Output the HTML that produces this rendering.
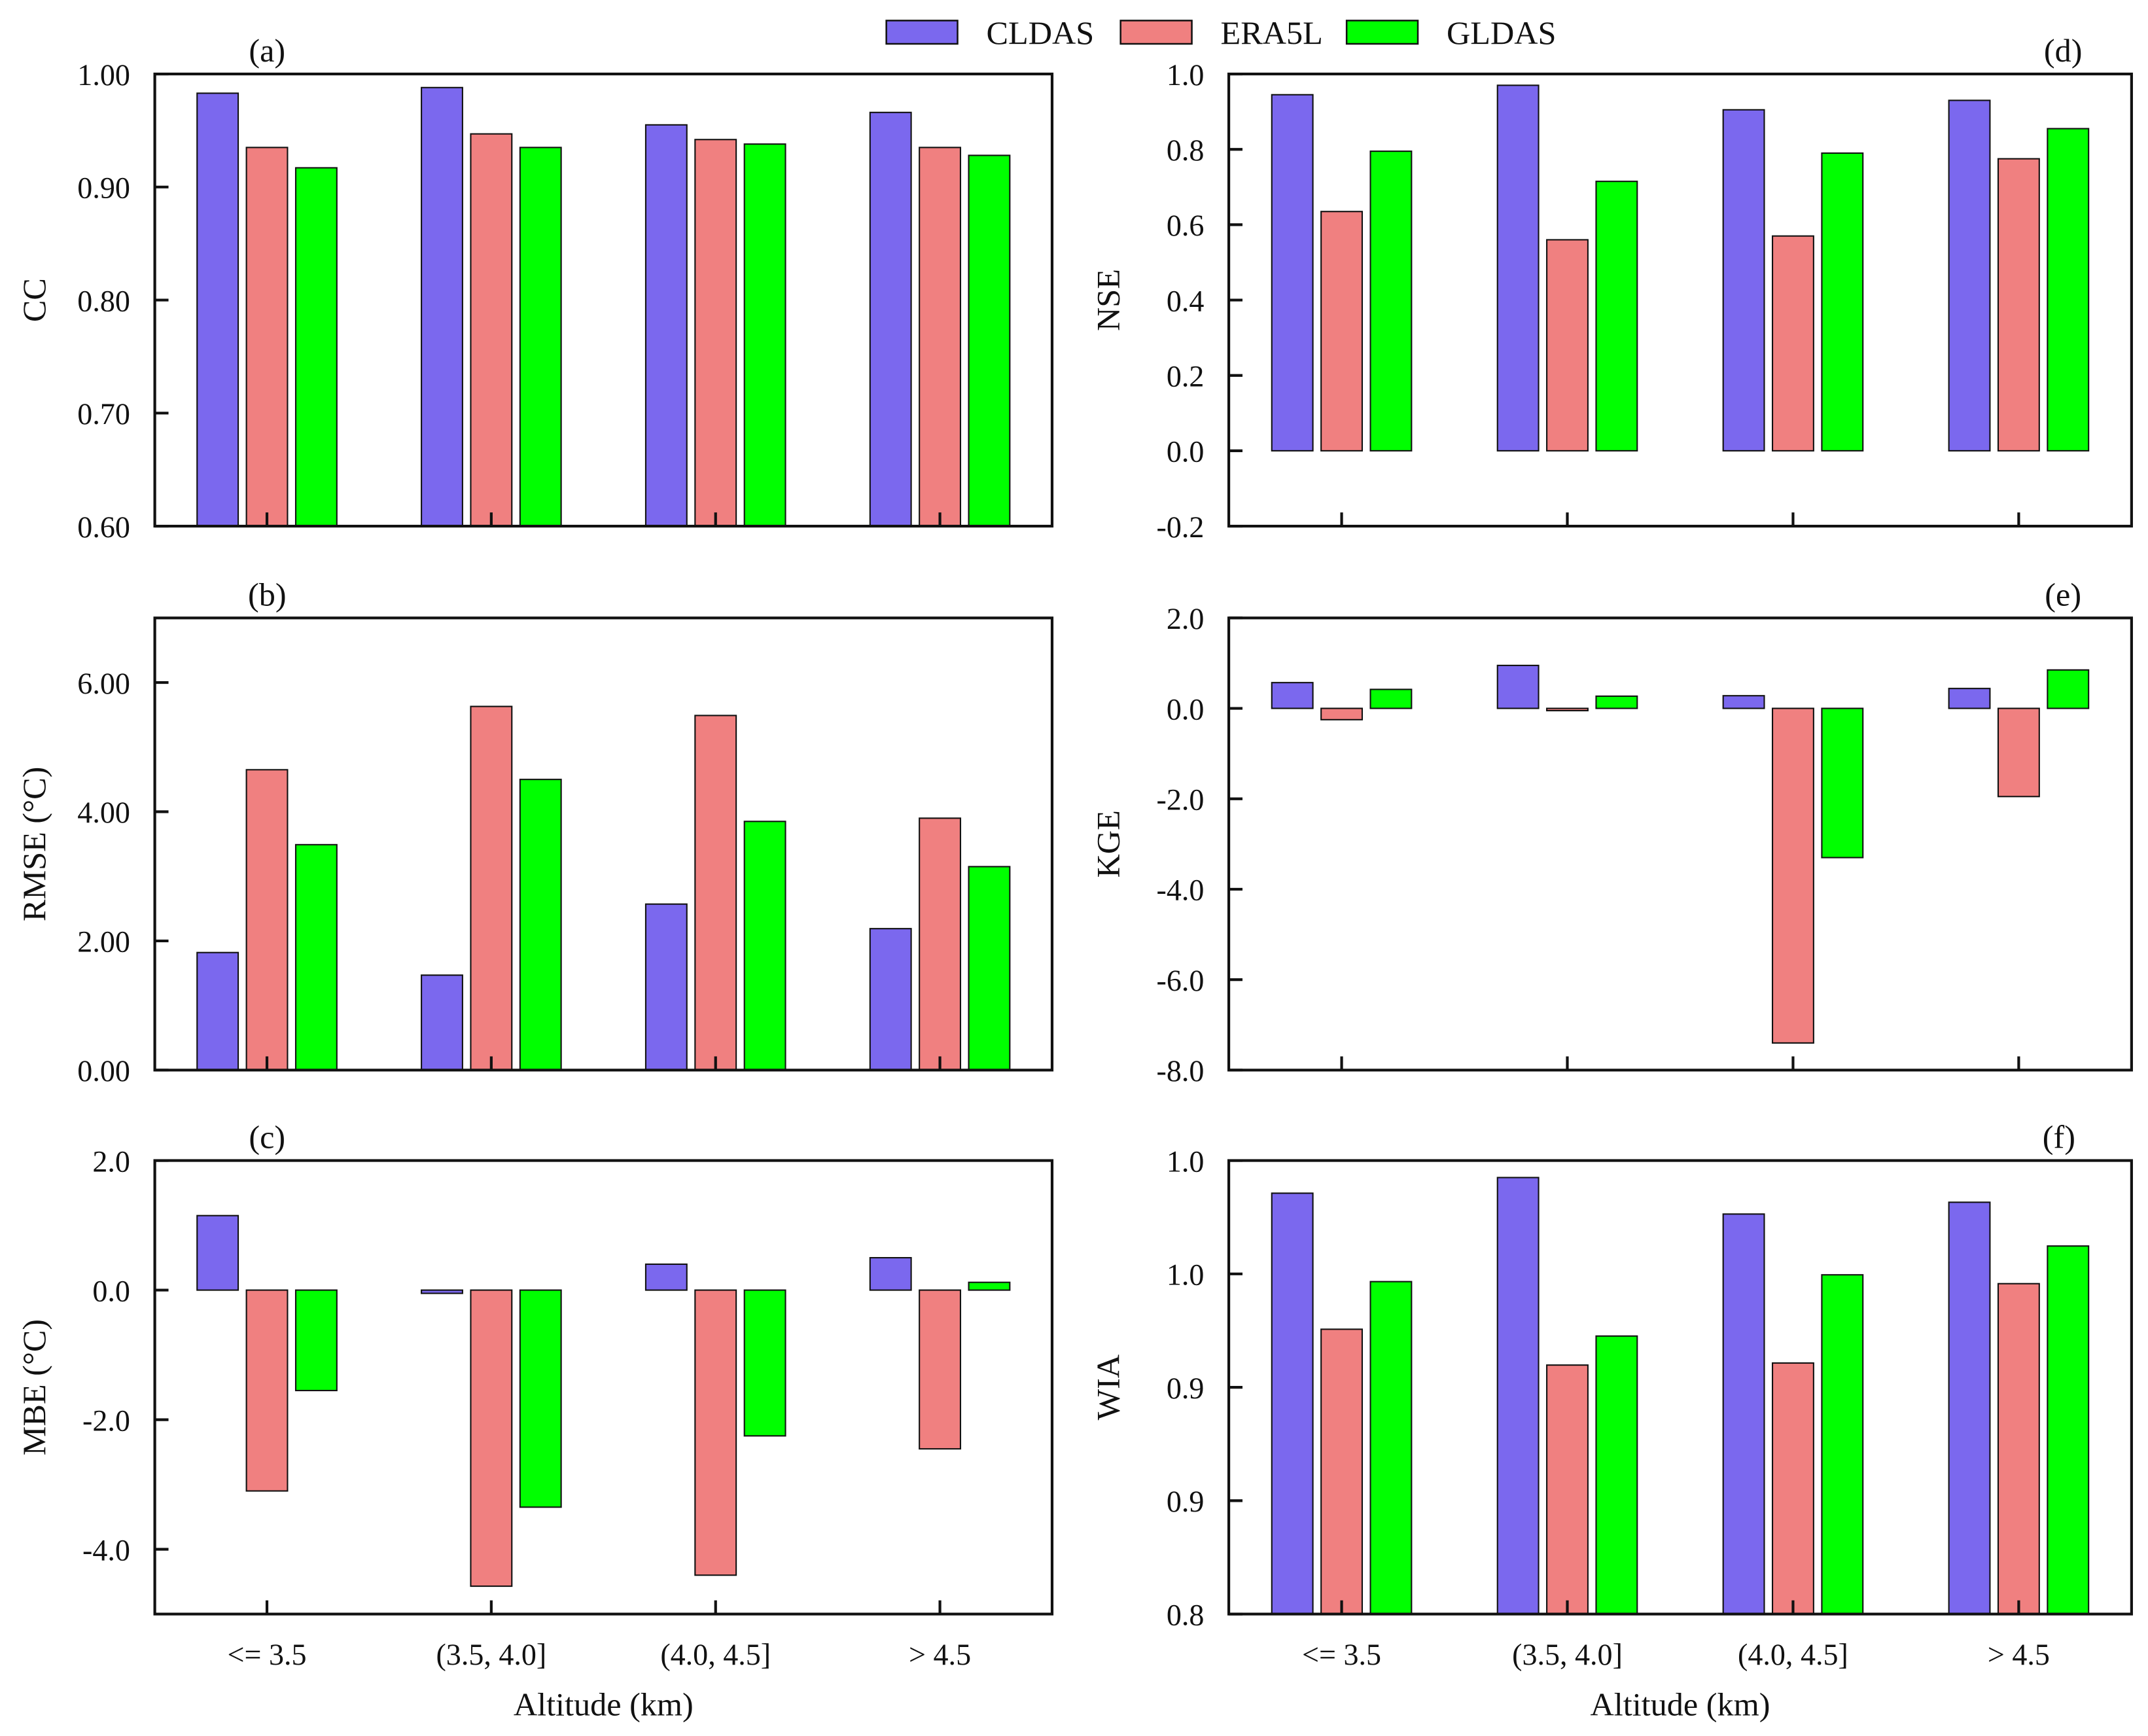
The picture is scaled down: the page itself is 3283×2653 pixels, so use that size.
<!DOCTYPE html>
<html><head><meta charset="utf-8"><style>
html,body{margin:0;padding:0;background:#fff}
svg{display:block}
text{font-family:"Liberation Serif",serif;fill:#111}
</style></head><body>
<svg id="fig" width="3283" height="2653" viewBox="0 0 1568 1267" preserveAspectRatio="none" xmlns="http://www.w3.org/2000/svg"></svg>
<script>
const categories = ["<= 3.5","(3.5, 4.0]","(4.0, 4.5]","> 4.5"];
const seriesNames = ["CLDAS","ERA5L","GLDAS"];
const colors = ["#7b68ee","#f08080","#00ff00"];
const ccCLDAS=[0.983,0.988,0.955,0.966], ccERA5L=[0.935,0.947,0.942,0.935], ccGLDAS=[0.917,0.935,0.938,0.928];
const rmseCLDAS=[1.82,1.47,2.57,2.19], rmseERA5L=[4.65,5.63,5.49,3.90], rmseGLDAS=[3.49,4.50,3.85,3.15];
const mbeCLDAS=[1.15,-0.05,0.40,0.50], mbeERA5L=[-3.10,-4.57,-4.40,-2.45], mbeGLDAS=[-1.55,-3.35,-2.25,0.12];
const nseCLDAS=[0.945,0.97,0.905,0.93], nseERA5L=[0.635,0.56,0.57,0.775], nseGLDAS=[0.795,0.715,0.79,0.855];
const kgeCLDAS=[0.57,0.95,0.28,0.44], kgeERA5L=[-0.25,-0.05,-7.4,-1.95], kgeGLDAS=[0.42,0.27,-3.3,0.85];
const wiaCLDAS=[0.9856,0.9925,0.9764,0.9816], wiaERA5L=[0.9256,0.9098,0.9107,0.9457], wiaGLDAS=[0.9466,0.9226,0.9496,0.9623];
const ccTicks=["0.60","0.70","0.80","0.90","1.00"];
const rmseTicks=["0.00","2.00","4.00","6.00"];
const mbeTicks=["-4.0","-2.0","0.0","2.0"];
const nseTicks=["-0.2","0.0","0.2","0.4","0.6","0.8","1.0"];
const kgeTicks=["-8.0","-6.0","-4.0","-2.0","0.0","2.0"];
const wiaTicks=["0.8","0.9","0.9","1.0","1.0"];

const NS="http://www.w3.org/2000/svg";
const svg=document.getElementById('fig');
function mk(tag,attrs,parent){const e=document.createElementNS(NS,tag);for(const k in attrs)e.setAttribute(k,attrs[k]);(parent||svg).appendChild(e);return e;}

function panel(id,label,x0,x1,y0,y1,min,max,tickVals,tickLabels,ytitle,labelX,data,showX){
  const g=mk('g',{});
  
  
  const ys=v=>y1-(v-min)/(max-min)*(y1-y0);
  const band=(x1-x0)/4;
  const xc=i=>x0+(i+0.5)*band;
  const base=ys(Math.max(min,0));
  data.forEach((vals,s)=>{
    vals.forEach((v,i)=>{
      const cx=xc(i)+(s-1)*36;
      const yv=ys(v);
      const r=mk('rect',{x:cx-15,y:Math.min(yv,base),width:30,height:Math.max(Math.abs(base-yv),0.8),fill:colors[s],stroke:'#111','stroke-width':1},g);
      
      
    });
  });
  const fr=mk('rect',{x:x0,y:y0,width:x1-x0,height:y1-y0,fill:'none',stroke:'#111','stroke-width':2},g);
  
  
  tickVals.forEach((v,k)=>{
    const y=ys(v);
    mk('line',{x1:x0,x2:x0+10,y1:y,y2:y,stroke:'#111','stroke-width':2},g);
    const t=mk('text',{x:x0-18,y:y+8,'text-anchor':'end','font-size':22},g);
    t.textContent=tickLabels[k];
    
    
  });
  categories.forEach((c,i)=>{
    mk('line',{x1:xc(i),x2:xc(i),y1:y1,y2:y1-10,stroke:'#111','stroke-width':2},g);
    if(showX){
      const t=mk('text',{x:xc(i),y:y1+37,'text-anchor':'middle','font-size':22},g);
      t.textContent=c;
      
      
    }
  });
  if(showX){
    const t=mk('text',{x:(x0+x1)/2,y:y1+74,'text-anchor':'middle','font-size':24},g);
    t.textContent='Altitude (km)';
    
    
  }
  const tx=x0-80, ty=(y0+y1)/2;
  const yt=mk('text',{x:tx,y:ty,'text-anchor':'middle','font-size':24,transform:`rotate(-90 ${tx} ${ty})`},g);
  yt.textContent=ytitle;
  
  
  const pl=mk('text',{x:labelX,y:y0-9,'text-anchor':'middle','font-size':24},g);
  pl.textContent=label;
  
  
}
const L=[113,768], R=[897,1556];
const rows=[[54,384],[451,781],[847,1178]];
panel('a','(a)',L[0],L[1],rows[0][0],rows[0][1],0.6,1.0,[0.6,0.7,0.8,0.9,1.0],ccTicks,'CC',195,[ccCLDAS,ccERA5L,ccGLDAS],false);
panel('b','(b)',L[0],L[1],rows[1][0],rows[1][1],0,7,[0,2,4,6],rmseTicks,'RMSE (\u00B0C)',195,[rmseCLDAS,rmseERA5L,rmseGLDAS],false);
panel('c','(c)',L[0],L[1],rows[2][0],rows[2][1],-5,2,[-4,-2,0,2],mbeTicks,'MBE (\u00B0C)',195,[mbeCLDAS,mbeERA5L,mbeGLDAS],true);
panel('d','(d)',R[0],R[1],rows[0][0],rows[0][1],-0.2,1.0,[-0.2,0,0.2,0.4,0.6,0.8,1.0],nseTicks,'NSE',1506,[nseCLDAS,nseERA5L,nseGLDAS],false);
panel('e','(e)',R[0],R[1],rows[1][0],rows[1][1],-8,2,[-8,-6,-4,-2,0,2],kgeTicks,'KGE',1506,[kgeCLDAS,kgeERA5L,kgeGLDAS],false);
panel('f','(f)',R[0],R[1],rows[2][0],rows[2][1],0.8,1.0,[0.8,0.85,0.9,0.95,1.0],wiaTicks,'WIA',1503,[wiaCLDAS,wiaERA5L,wiaGLDAS],true);

const lg=mk('g',{});


const lx=[647,818,983];
seriesNames.forEach((n,s)=>{
  const r=mk('rect',{x:lx[s],y:15,width:52,height:17,fill:colors[s],stroke:'#111','stroke-width':1.2},lg);
  
  
  const t=mk('text',{x:lx[s]+73,y:32,'font-size':24},lg);
  t.textContent=n;
  
  
});
</script>
</body></html>
